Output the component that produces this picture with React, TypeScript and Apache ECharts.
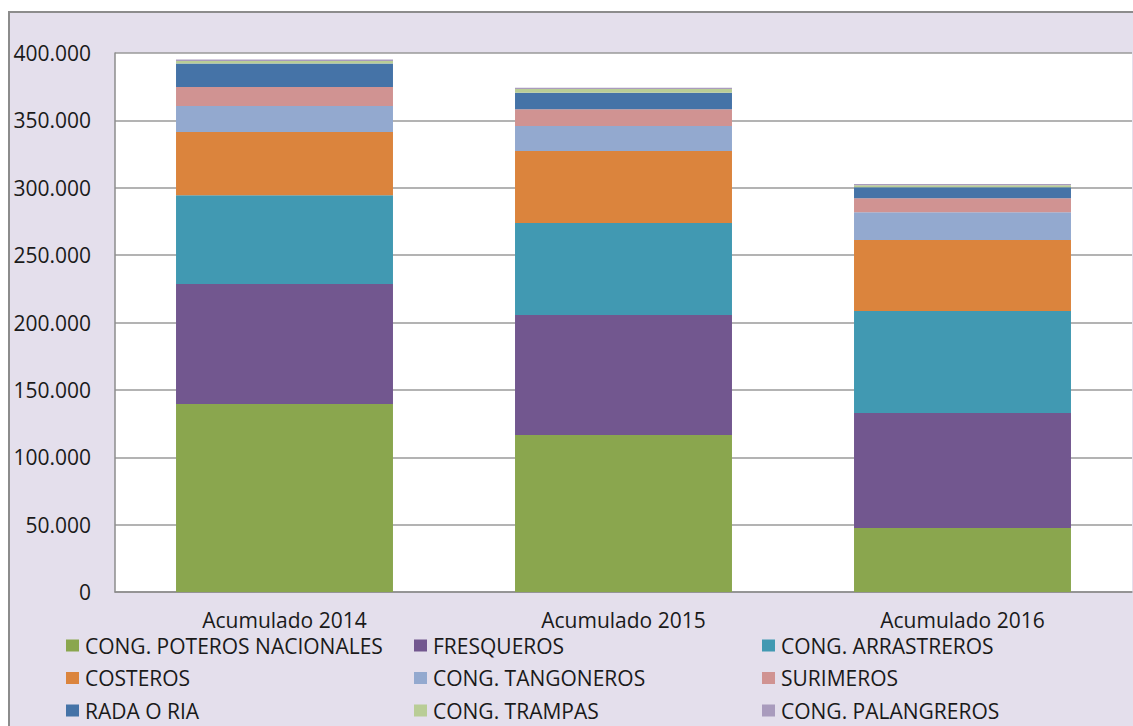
import React, { useEffect, useRef } from "react";
import * as echarts from "echarts";

const categories = ["Acumulado 2014", "Acumulado 2015", "Acumulado 2016"];
const seriesNames = [
  "CONG. POTEROS NACIONALES",
  "FRESQUEROS",
  "CONG. ARRASTREROS",
  "COSTEROS",
  "CONG. TANGONEROS",
  "SURIMEROS",
  "RADA O RIA",
  "CONG. TRAMPAS",
  "CONG. PALANGREROS",
];
const poteros = [139500, 116500, 47500];
const fresqueros = [89000, 89000, 85300];
const arrastreros = [66000, 68300, 75700];
const costeros = [46800, 53400, 52700];
const tangoneros = [19300, 18600, 20600];
const surimeros = [14100, 12400, 10400];
const rada = [17600, 12300, 8100];
const trampas = [1700, 2700, 1500];
const palangreros = [1200, 1000, 1000];
const seriesValues = [poteros, fresqueros, arrastreros, costeros, tangoneros, surimeros, rada, trampas, palangreros];
const colors = ["#8AA64E", "#72578F", "#4199B2", "#DB843D", "#93A9CF", "#D09392", "#4573A7", "#B9CD96", "#A99BBD"];
const yTicks = { min: 0, max: 400000, interval: 50000 };

const FONT = "'Open Sans', sans-serif";

function fmt(v: number) {
  return String(v).replace(/\B(?=(\d{3})+(?!\d))/g, ".");
}

export default function App() {
  const ref = useRef<HTMLDivElement>(null);
  useEffect(() => {
    document.body.style.margin = "0";
    const chart = echarts.init(ref.current!, null, { renderer: "svg" });
    const legendCols = [
      [0, 3, 6],
      [1, 4, 7],
      [2, 5, 8],
    ];
    const legendLefts = [61, 409, 757];
    chart.setOption({
      animation: false,
      backgroundColor: "#ffffff",
      graphic: [
        {
          type: "rect",
          z: -10,
          shape: { x: 9, y: 12, width: 1140, height: 730 },
          style: { fill: "#E4DFEC", stroke: "#8C8C8C", lineWidth: 2 },
        },
      ],
      grid: {
        left: 115,
        right: 1,
        top: 53,
        bottom: 134,
        show: true,
        backgroundColor: "#ffffff",
        borderWidth: 0,
      },
      legend: legendCols.map((col, i) => ({
        orient: "vertical",
        left: legendLefts[i],
        top: 630,
        itemWidth: 13,
        itemHeight: 12,
        itemGap: 11.5,
        icon: "rect",
        textStyle: { fontFamily: FONT, fontSize: 21, color: "#1a1a1a", padding: [0, 0, 0, 1] },
        data: col.map((k) => seriesNames[k]),
      })),
      xAxis: {
        type: "category",
        data: categories,
        axisLine: { lineStyle: { color: "#8C8C8C", width: 1.5 } },
        axisTick: { show: false },
        axisLabel: { fontFamily: FONT, fontSize: 21, color: "#1a1a1a", margin: 17 },
      },
      yAxis: {
        type: "value",
        min: yTicks.min,
        max: yTicks.max,
        interval: yTicks.interval,
        axisLine: { show: true, lineStyle: { color: "#8C8C8C", width: 1.5 } },
        axisTick: { show: false },
        splitLine: { lineStyle: { color: "#9A9A9A", width: 1.5 } },
        axisLabel: {
          fontFamily: FONT,
          fontSize: 21,
          color: "#1a1a1a",
          margin: 24,
          formatter: (v: number) => fmt(v),
        },
      },
      series: seriesNames.map((name, i) => ({
        name,
        type: "bar",
        stack: "total",
        barWidth: "64%",
        data: seriesValues[i],
        itemStyle: { color: colors[i] },
      })),
    });
    return () => chart.dispose();
  }, []);
  return <div ref={ref} style={{ width: 1133, height: 726 }} />;
}
